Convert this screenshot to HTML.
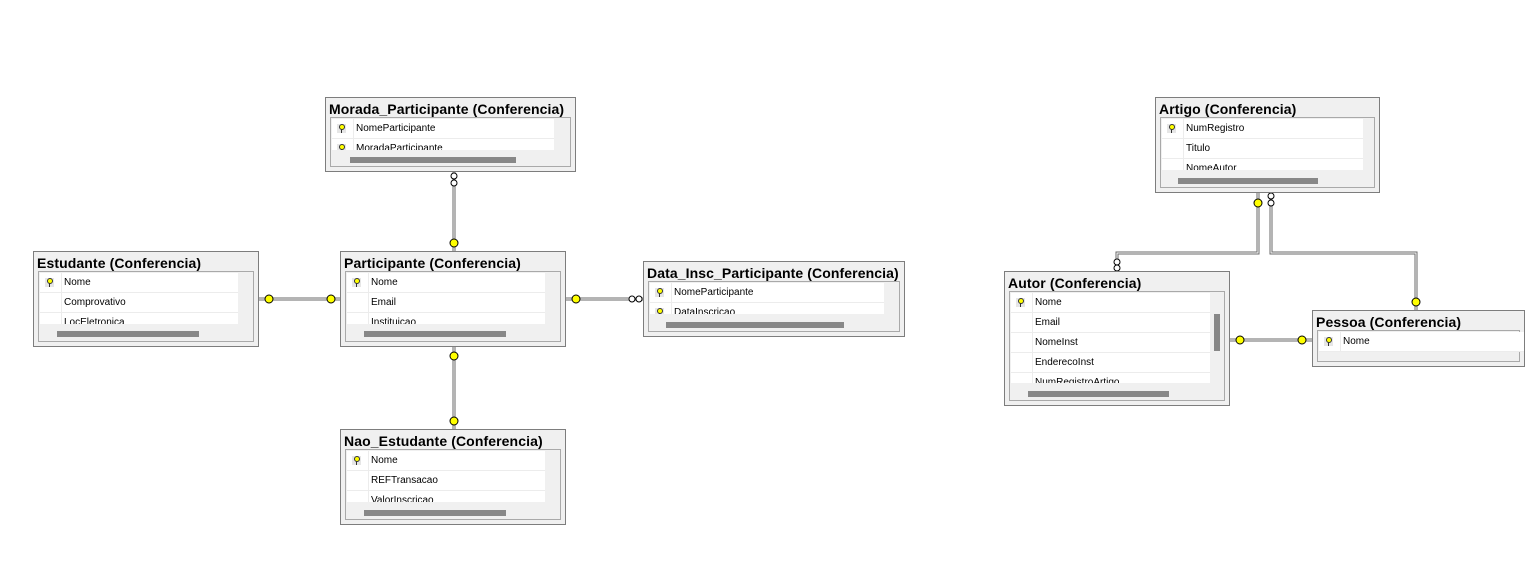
<!DOCTYPE html>
<html><head><meta charset="utf-8"><style>
body{margin:0;width:1537px;height:585px;background:#fff;position:relative;overflow:hidden;font-family:"Liberation Sans",sans-serif}
.t{position:absolute;border:1px solid #7d7d7d;background:#f0f0f0;box-sizing:border-box}
.ti{position:absolute;left:3px;top:3px;font-weight:bold;font-size:14px;color:#000;white-space:nowrap;letter-spacing:0.1px}
.in{position:absolute;left:4px;top:19px;right:4px;bottom:4px;border:1px solid #a9a9a9;box-sizing:border-box}
.rows{position:absolute;left:1px;top:1px;background:#fff;overflow:hidden}
.r{height:19px;border-bottom:1px solid #ececec;position:relative;font-size:10px;line-height:19px;color:#000}
.r .k{position:absolute;left:0;top:0;width:21px;height:19px;border-right:1px solid #ececec}
.r .tx{position:absolute;left:24px;top:0;white-space:nowrap}
.key{position:absolute;left:5px;top:5px;width:9px;height:9px;background:#e6e6e6}
.key:after{content:"";position:absolute;left:2px;top:0px;width:4px;height:4px;border:1px solid #333;border-radius:50%;background:#ff0}
.key:before{content:"";position:absolute;left:4px;top:5px;width:1px;height:4px;background:#333}
.sb{position:absolute;height:6px;background:#888}
</style></head><body>

<svg width="1537" height="585" style="position:absolute;left:0;top:0">
<g fill="none" stroke="#6a6a6a" stroke-width="3">
<path d="M454 172V251"/><path d="M259 299H340"/><path d="M566 299H643"/><path d="M454 347V429"/>
<path d="M1258 192V253H1117V271"/><path d="M1271 192V253H1416V310"/><path d="M1230 340H1312"/>
</g>
<g fill="none" stroke="#fff" stroke-width="1">
<path d="M454 172V251"/><path d="M259 299H340"/><path d="M566 299H643"/><path d="M454 347V429"/>
<path d="M1258 192V253H1117V271"/><path d="M1271 192V253H1416V310"/><path d="M1230 340H1312"/>
</g>
<g fill="#fff" stroke="#000" stroke-width="1">
<circle cx="454" cy="176" r="3"/><circle cx="454" cy="183" r="3"/>
<circle cx="632" cy="299" r="3"/><circle cx="639" cy="299" r="3"/>
<circle cx="1271" cy="196" r="3"/><circle cx="1271" cy="203" r="3"/>
<circle cx="1117" cy="262" r="3"/><circle cx="1117" cy="268" r="3"/>
</g>
<g fill="#ff0" stroke="#000" stroke-width="1">
<circle cx="454" cy="243" r="4"/><circle cx="269" cy="299" r="4"/><circle cx="331" cy="299" r="4"/>
<circle cx="576" cy="299" r="4"/><circle cx="454" cy="356" r="4"/><circle cx="454" cy="421" r="4"/>
<circle cx="1258" cy="203" r="4"/><circle cx="1416" cy="302" r="4"/><circle cx="1240" cy="340" r="4"/><circle cx="1302" cy="340" r="4"/>
</g>
</svg>

<div class="t" style="left:325px;top:97px;width:251px;height:75px">
<div class="ti">Morada_Participante (Conferencia)</div>
<div class="in"><div class="rows" style="width:222px;height:31px">
<div class="r"><div class="k"><div class="key"></div></div><div class="tx">NomeParticipante</div></div>
<div class="r"><div class="k"><div class="key"></div></div><div class="tx">MoradaParticipante</div></div>
</div></div>
<div class="sb" style="left:24px;top:59px;width:166px"></div>
</div>

<div class="t" style="left:33px;top:251px;width:226px;height:96px">
<div class="ti">Estudante (Conferencia)</div>
<div class="in"><div class="rows" style="width:198px;height:51px">
<div class="r"><div class="k"><div class="key"></div></div><div class="tx">Nome</div></div>
<div class="r"><div class="k"></div><div class="tx">Comprovativo</div></div>
<div class="r"><div class="k"></div><div class="tx">LocEletronica</div></div>
</div></div>
<div class="sb" style="left:23px;top:79px;width:142px"></div>
</div>

<div class="t" style="left:340px;top:251px;width:226px;height:96px">
<div class="ti">Participante (Conferencia)</div>
<div class="in"><div class="rows" style="width:198px;height:51px">
<div class="r"><div class="k"><div class="key"></div></div><div class="tx">Nome</div></div>
<div class="r"><div class="k"></div><div class="tx">Email</div></div>
<div class="r"><div class="k"></div><div class="tx">Instituicao</div></div>
</div></div>
<div class="sb" style="left:23px;top:79px;width:142px"></div>
</div>

<div class="t" style="left:643px;top:261px;width:262px;height:76px">
<div class="ti">Data_Insc_Participante (Conferencia)</div>
<div class="in"><div class="rows" style="width:234px;height:31px">
<div class="r"><div class="k"><div class="key"></div></div><div class="tx">NomeParticipante</div></div>
<div class="r"><div class="k"><div class="key"></div></div><div class="tx">DataInscricao</div></div>
</div></div>
<div class="sb" style="left:22px;top:60px;width:178px"></div>
</div>

<div class="t" style="left:340px;top:429px;width:226px;height:96px">
<div class="ti">Nao_Estudante (Conferencia)</div>
<div class="in"><div class="rows" style="width:198px;height:51px">
<div class="r"><div class="k"><div class="key"></div></div><div class="tx">Nome</div></div>
<div class="r"><div class="k"></div><div class="tx">REFTransacao</div></div>
<div class="r"><div class="k"></div><div class="tx">ValorInscricao</div></div>
</div></div>
<div class="sb" style="left:23px;top:80px;width:142px"></div>
</div>

<div class="t" style="left:1155px;top:97px;width:225px;height:96px">
<div class="ti">Artigo (Conferencia)</div>
<div class="in"><div class="rows" style="width:201px;height:51px">
<div class="r"><div class="k"><div class="key"></div></div><div class="tx">NumRegistro</div></div>
<div class="r"><div class="k"></div><div class="tx">Titulo</div></div>
<div class="r"><div class="k"></div><div class="tx">NomeAutor</div></div>
</div></div>
<div class="sb" style="left:22px;top:80px;width:140px"></div>
</div>

<div class="t" style="left:1004px;top:271px;width:226px;height:135px">
<div class="ti">Autor (Conferencia)</div>
<div class="in"><div class="rows" style="width:199px;height:90px">
<div class="r"><div class="k"><div class="key"></div></div><div class="tx">Nome</div></div>
<div class="r"><div class="k"></div><div class="tx">Email</div></div>
<div class="r"><div class="k"></div><div class="tx">NomeInst</div></div>
<div class="r"><div class="k"></div><div class="tx">EnderecoInst</div></div>
<div class="r"><div class="k"></div><div class="tx">NumRegistroArtigo</div></div>
</div></div>
<div class="sb" style="left:209px;top:42px;width:6px;height:37px"></div>
<div class="sb" style="left:23px;top:119px;width:141px"></div>
</div>

<div class="t" style="left:1312px;top:310px;width:213px;height:57px">
<div class="ti">Pessoa (Conferencia)</div>
<div class="in"><div class="rows" style="width:205px;height:20px">
<div class="r"><div class="k"><div class="key"></div></div><div class="tx">Nome</div></div>
</div></div>
</div>

</body></html>
